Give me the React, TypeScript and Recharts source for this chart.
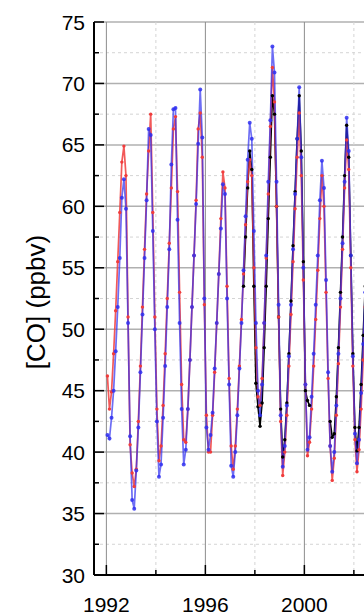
import { CartesianGrid, Line, LineChart, XAxis, YAxis } from "recharts"

// monthly means, Jan 1992 onwards (one row per year)
const RED = [
  46.2, 43.5, 44.9, 48.0, 51.5, 55.5, 59.5, 63.6, 64.9, 62.5, 51.0, 40.6,
  38.3, 37.2, 38.6, 42.5, 47.0, 51.8, 56.5, 61.0, 64.5, 67.5, 59.5, 51.0,
  43.5, 39.3, 40.5, 43.8, 48.0, 52.5, 57.0, 61.5, 66.3, 67.3, 61.2, 53.0,
  45.5, 41.0, 40.8, 43.5, 47.5, 51.8, 56.0, 60.5, 66.3, 67.6, 64.0, 52.0,
  43.0, 40.0, 40.0, 43.0, 46.5, 50.5, 54.5, 59.0, 62.8, 61.5, 53.5, 46.0,
  40.5, 38.6, 40.5, 43.5, 47.0, 50.8, 54.5, 58.5, 62.0, 63.8, 62.5, 55.0,
  48.5, 44.5, 43.8, 46.0, 50.5, 55.8, 61.0, 66.5, 71.3, 68.5, 60.0, 51.0,
  42.5, 38.1, 40.0, 43.0, 47.0, 51.2, 55.5, 59.8, 64.0, 67.6, 62.5, 54.0,
  45.5, 39.7, 40.8, 43.5, 47.0, 50.8, 54.8, 59.0, 62.5, 60.0, 53.0, 46.0,
  40.5, 37.7, 39.5, 43.0, 47.2, 51.8, 56.5, 61.5, 65.4, 63.0, 55.0, 47.0,
  41.0, 38.4, 40.2, 43.5, 47.5, 51.8, 56.0, 60.5,
]

const BLUE = [
  41.4, 41.1, 42.8, 45.0, 48.2, 51.8, 55.8, 60.7, 62.2, 59.8, 50.5, 41.3,
  36.1, 35.4, 38.5, 42.0, 46.5, 51.2, 55.8, 60.5, 66.3, 65.8, 58.0, 50.0,
  42.5, 38.0, 39.0, 42.8, 47.0, 51.8, 56.5, 63.4, 67.9, 68.0, 58.9, 50.5,
  43.5, 39.0, 40.2, 43.5, 47.5, 51.8, 56.0, 60.2, 65.1, 69.5, 65.6, 52.5,
  42.0, 40.2, 41.4, 43.2, 46.8, 50.5, 54.5, 58.2, 61.8, 61.0, 52.5, 45.5,
  38.9, 38.0, 40.0, 43.0, 46.8, 50.5, 54.8, 59.2, 63.8, 66.8, 65.5, 58.0,
  50.5, 45.0, 43.0, 45.5, 50.5, 56.0, 62.0, 67.0, 73.0, 70.9, 62.0, 52.0,
  43.0, 38.8, 40.5, 43.8, 47.8, 52.0, 56.5, 61.0, 65.5, 69.7, 64.0, 55.0,
  45.5, 40.2, 41.2, 44.5, 48.0, 52.0, 56.0, 60.5, 63.7, 61.5, 54.0, 46.5,
  40.5, 38.4, 40.0, 43.8, 48.0, 52.5, 57.0, 62.0, 67.2, 64.5, 56.0, 47.8,
  41.5, 39.1, 41.0, 44.8, 48.8, 53.0, 57.5, 62.0,
]

const BLACK = [
  null, null, null, null, null, null, null, null, null, null, null, null,
  null, null, null, null, null, null, null, null, null, null, null, null,
  null, null, null, null, null, null, null, null, null, null, null, null,
  null, null, null, null, null, null, null, null, null, null, null, null,
  null, null, null, null, null, null, null, null, null, null, null, null,
  null, null, null, null, null, null, 53.5, 57.5, 61.5, 64.5, 63.0, 53.5,
  45.6, 43.7, 42.1, 44.0, 48.5, 53.5, 59.0, 64.0, 69.0, 67.5, 60.0, 51.0,
  43.5, 39.6, 41.0, 44.0, 48.0, 52.3, 56.8, 61.2, 65.5, 69.0, 64.5, 55.5,
  45.0, 44.2, 43.8, null, null, null, null, null, null, null, null, null,
  42.5, 41.2, 41.5, 44.5, 48.5, 53.0, 57.5, 62.5, 66.6, 64.0, 56.0, 48.0,
  42.0, 40.1, 42.0, 45.5, 49.5, 53.5, 58.0, 62.0,
]

const START_YEAR = 1992
const X_DOMAIN = [1991.5, 2003.5]
const X_TICKS = [1992, 1994, 1996, 1998, 2000, 2002]
const Y_TICKS = [30, 32.5, 35, 37.5, 40, 42.5, 45, 47.5, 50, 52.5, 55, 57.5, 60, 62.5, 65, 67.5, 70, 72.5, 75]

const data = RED.map((v, i) => ({
  t: START_YEAR + (i + 0.5) / 12,
  red: v,
  blue: BLUE[i],
  black: BLACK[i],
}))

const FONT = '"Liberation Sans", Arial, sans-serif'
const AXIS_X = 94
const TOP_Y = 22
const BOTTOM_Y = 575

function BottomTick(props: any) {
  const { x, payload } = props
  const major = payload.value % 4 === 0
  return (
    <g>
      <line x1={x} x2={x} y1={BOTTOM_Y} y2={BOTTOM_Y - (major ? 10 : 5)} stroke="#000" strokeWidth={1.5} />
      {major && (
        <text x={x} y={604} textAnchor="middle" dominantBaseline="central" fontSize={21} fontFamily={FONT} fill="#000">
          {payload.value}
        </text>
      )}
    </g>
  )
}

function TopTick(props: any) {
  const { x, payload } = props
  const major = payload.value % 4 === 0
  return <line x1={x} x2={x} y1={TOP_Y} y2={TOP_Y + (major ? 10 : 5)} stroke="#000" strokeWidth={1.5} />
}

function LeftTick(props: any) {
  const { y, payload } = props
  const major = payload.value % 5 === 0
  return (
    <g>
      <line x1={AXIS_X} x2={AXIS_X + (major ? 10 : 5)} y1={y} y2={y} stroke="#000" strokeWidth={1.5} />
      {major && (
        <text x={85} y={y} textAnchor="end" dominantBaseline="central" fontSize={21} fontFamily={FONT} fill="#000">
          {payload.value}
        </text>
      )}
    </g>
  )
}

function HLine(p: any) {
  const major = Y_TICKS[p.index] % 5 === 0
  return (
    <line
      key={p.key}
      x1={p.x1}
      x2={p.x2}
      y1={p.y1}
      y2={p.y2}
      stroke={major ? "#b0b0b0" : "#d4d4d4"}
      strokeWidth={major ? 1.5 : 1}
      strokeDasharray={major ? undefined : "3 3"}
    />
  )
}

function VLine(p: any) {
  const major = X_TICKS[p.index] % 4 === 0
  return (
    <line
      key={p.key}
      x1={p.x1}
      x2={p.x2}
      y1={p.y1}
      y2={p.y2}
      stroke={major ? "#8c8c8c" : "#d4d4d4"}
      strokeWidth={1}
      strokeDasharray={major ? undefined : "3 3"}
    />
  )
}

export default function App() {
  return (
    <div style={{ position: "absolute", left: 0, top: 0, width: 364, height: 616, overflow: "hidden", background: "#fff" }}>
      <LineChart width={400} height={616} data={data} margin={{ top: TOP_Y, right: 9, bottom: 0, left: 0 }}>
        <CartesianGrid horizontal={HLine} vertical={VLine} />
        <XAxis
          dataKey="t"
          type="number"
          domain={X_DOMAIN}
          ticks={X_TICKS}
          height={41}
          tickLine={false}
          tick={<BottomTick />}
          axisLine={{ stroke: "#000", strokeWidth: 2 }}
          allowDataOverflow
        />
        <XAxis
          xAxisId="top"
          orientation="top"
          dataKey="t"
          type="number"
          domain={X_DOMAIN}
          ticks={X_TICKS}
          height={0}
          tickLine={false}
          tick={<TopTick />}
          axisLine={{ stroke: "#000", strokeWidth: 1.5 }}
          allowDataOverflow
        />
        <YAxis
          type="number"
          domain={[30, 75]}
          ticks={Y_TICKS}
          width={AXIS_X}
          tickLine={false}
          tick={<LeftTick />}
          axisLine={{ stroke: "#000", strokeWidth: 2 }}
          allowDataOverflow
        />
        <Line
          dataKey="black"
          stroke="#000"
          strokeWidth={1.6}
          dot={{ r: 1.7, fill: "#000", stroke: "none" }}
          connectNulls={false}
          isAnimationActive={false}
        />
        <Line
          dataKey="red"
          stroke="#f03c3c"
          strokeOpacity={0.85}
          strokeWidth={1.7}
          dot={{ r: 1.7, fill: "#f03c3c", stroke: "none" }}
          isAnimationActive={false}
        />
        <Line
          dataKey="blue"
          stroke="#2f2ff0"
          strokeOpacity={0.7}
          strokeWidth={1.7}
          dot={{ r: 2, fill: "#2f2ff0", fillOpacity: 0.85, stroke: "none" }}
          isAnimationActive={false}
        />
      </LineChart>
      <div
        style={{
          position: "absolute",
          left: 36,
          top: 302,
          transform: "translate(-50%, -50%) rotate(-90deg)",
          whiteSpace: "nowrap",
          fontFamily: FONT,
          fontSize: 26,
          color: "#000",
        }}
      >
        [CO] (ppbv)
      </div>
    </div>
  )
}
